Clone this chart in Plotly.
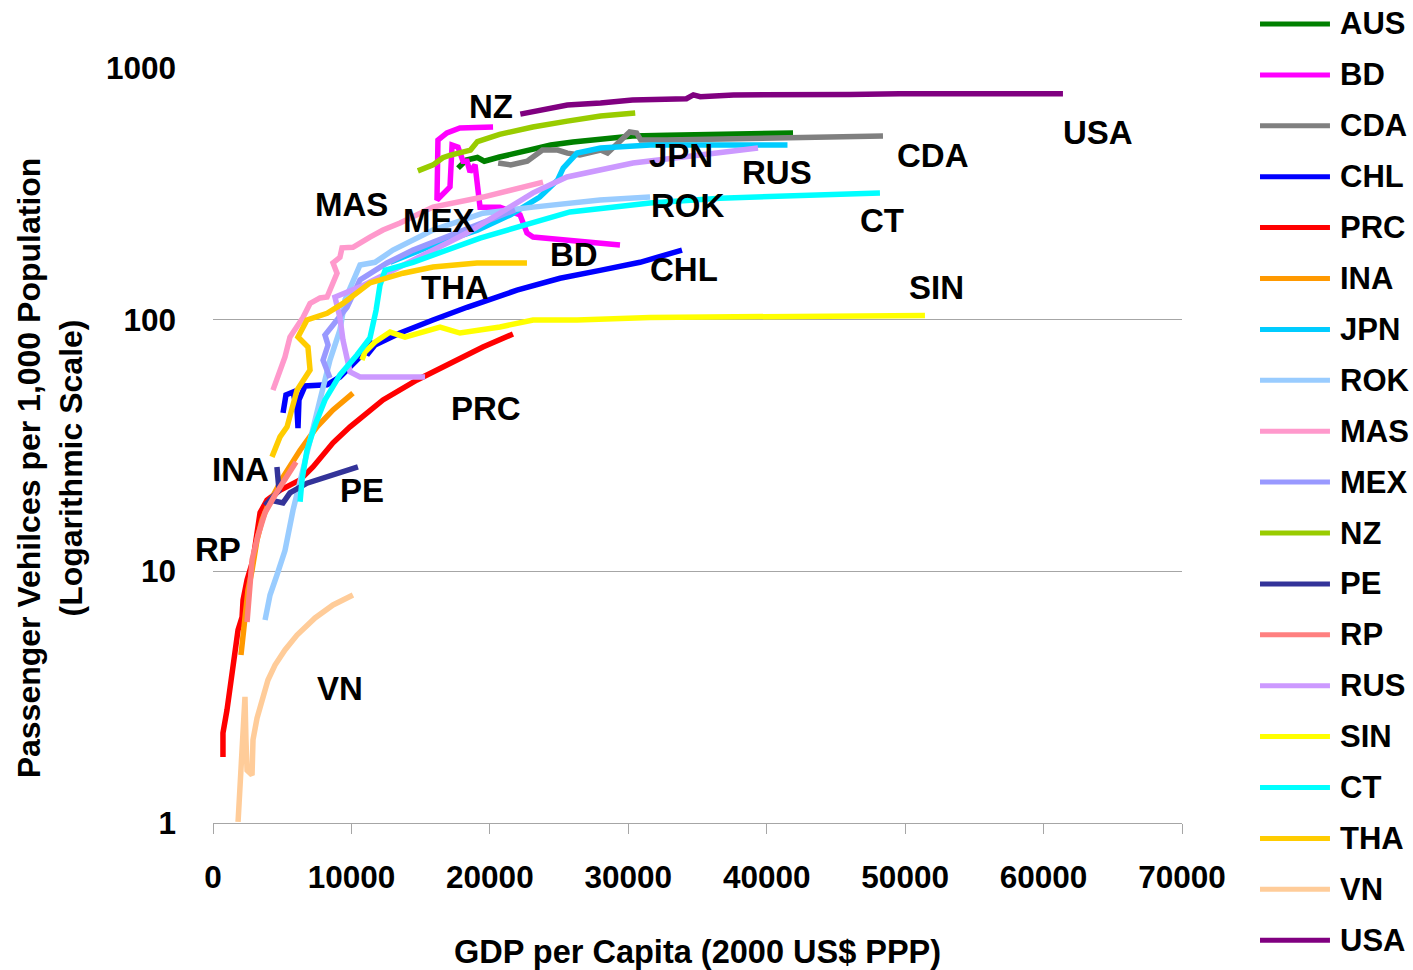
import numpy as np
import plotly.graph_objects as go

# GDP per capita (2000 US$ PPP) and passenger vehicles per 1,000 population
AUS_x = [17700, 18300, 19100, 19600, 20700, 22000, 23100, 24400, 26000, 28000, 30300, 32800, 40000, 41900]
AUS_y = [400, 431, 441, 426, 443, 459, 472, 494, 508, 522, 537, 540, 547, 552]

BD_x = [20230, 17840, 16900, 16250, 16180, 17120, 17270, 17700, 18060, 18350, 18570, 18930,
        19290, 20730, 22180, 22680, 23120, 25570, 29400]
BD_y = [583, 578, 552, 517, 299, 337, 494, 485, 426, 426, 386, 412, 280, 280, 261, 221, 213, 207, 198]

CDA_x = [20600, 21500, 22700, 23800, 24900, 25600, 26500, 28000, 28500, 29400, 30100, 30600,
         30900, 32800, 42400, 48400]
CDA_y = [419, 412, 426, 472, 472, 459, 451, 472, 459, 517, 557, 552, 517, 517, 527, 537]

CHL_x = [5060, 5270, 5780, 6070, 6140, 6210, 6650, 8240, 9170, 10260, 10980, 11340, 11120, 11700,
         13510, 15890, 18350, 21960, 25070, 27960, 30850, 33880]
CHL_y = [42.6, 50.2, 51.6, 43.8, 37.1, 48, 54.5, 55.1, 59.2, 67.3, 74.4, 83, 72.4, 79.3,
         88.5, 99.7, 112, 131, 146, 157, 169, 189]

PRC_x = [720, 720, 1010, 1230, 1440, 1590, 1810, 2100, 2170, 2460, 2890, 3400, 3900, 4840,
         6290, 7220, 8670, 9900, 12280, 14740, 17120, 19500, 21670]
PRC_y = [1.83, 2.28, 2.81, 3.38, 4.17, 4.87, 5.85, 6.58, 7.69, 9.24, 11.1, 17.1, 19.2, 21.0,
         23.1, 26.0, 32.4, 37.5, 48, 57.6, 67.3, 77.9, 87.7]

INA_x = [2020, 2170, 2310, 2530, 2820, 3180, 3540, 3970, 5060, 6290, 7510, 8670, 10110]
INA_y = [4.65, 5.48, 6.58, 8.43, 10.1, 13.3, 16.0, 18.3, 23.7, 30.3, 37.5, 43.8, 51.1]

JPN_x = [12800, 15900, 19100, 21500, 23600, 24900, 25300, 26300, 28000, 31600, 35200, 41500]
JPN_y = [169, 198, 227, 261, 307, 359, 400, 459, 481, 494, 494, 494]

ROK_x = [3760, 4120, 4620, 5200, 5780, 6290, 7010, 7730, 8450, 9170, 9540, 10620, 11700,
         13000, 15890, 19500, 23120, 27960, 31570]
ROK_y = [6.41, 8.05, 9.67, 12.1, 17.5, 23.1, 33.2, 48, 69.1, 91, 120, 165, 169,
         189, 227, 265, 280, 299, 307]

MAS_x = [4330, 4840, 5200, 5560, 6070, 6500, 7010, 7730, 8240, 8670, 8960, 8670, 9170, 9320,
         10110, 11340, 12280, 13510, 15890, 19500, 23840]
MAS_y = [52.5, 63.1, 71.1, 85.3, 93.5, 102, 116, 122, 123, 140, 153, 168, 177, 193,
         194, 213, 227, 242, 280, 307, 352]

MEX_x = [8450, 7950, 8310, 8090, 8670, 9680, 10620, 12570, 14450, 18570, 21820]
MEX_y = [58.7, 69.1, 79.3, 86.9, 95.2, 112, 144, 168, 189, 233, 273]

NZ_x = [14800, 15900, 16600, 17100, 18600, 19100, 20700, 23100, 25600, 28000, 30500]
NZ_y = [390, 412, 440, 450, 472, 510, 545, 583, 615, 645, 662]

PE_x = [4620, 4770, 3760, 4120, 5060, 5560, 6790, 8450, 10470]
PE_y = [26.0, 21.0, 18.3, 19.2, 18.7, 20.5, 22.4, 24.1, 26.0]

RP_x = [2460, 2600, 2820, 3250, 3760, 4480, 5200, 6000]
RP_y = [6.29, 8.43, 11.1, 13.9, 17.1, 20.1, 23.1, 27.2]

RUS_x = [15320, 10620, 9900, 9390, 9170, 8810, 10620, 13000, 14950, 18350, 20730, 23120,
         25570, 30340, 35180, 39370]
RUS_y = [59.2, 59.2, 62, 83, 102, 123, 135, 157, 177, 221, 265, 319, 369, 419, 451, 481]

SIN_x = [10760, 10980, 11700, 12790, 13870, 14950, 16400, 17840, 20730, 23120, 26300, 31570, 51430]
SIN_y = [69.1, 74.4, 81.5, 89.3, 85.3, 88.5, 93.5, 88.5, 93.5, 99.7, 99.7, 102, 104]

CT_x = [6290, 6430, 6790, 7370, 8090, 9170, 10400, 11340, 11780, 12060, 12430, 14450, 19290,
        25790, 31570, 36620, 48180]
CT_y = [18.9, 23.1, 30.3, 38.1, 48, 60.3, 72.4, 84.6, 109, 137, 157, 169, 211,
        268, 291, 304, 319]

THA_x = [4260, 4840, 5350, 6070, 7010, 6860, 6140, 6790, 8240, 9390, 11340, 13730, 15890, 19070, 22680]
THA_y = [28.5, 34.2, 37.5, 52.5, 63.1, 77.9, 85.3, 99.7, 106, 116, 140, 153, 162, 168, 168]

VN_x = [1810, 1950, 2100, 2310, 2380, 2460, 2820, 2890, 3180, 3540, 3970, 4480, 5200, 6070,
        7370, 8670, 10110]
VN_y = [1.01, 1.42, 2.14, 3.17, 2.14, 1.62, 1.55, 2.14, 2.61, 3.08, 3.70, 4.24, 4.87, 5.58,
        6.53, 7.35, 8.05]

USA_x = [22200, 23600, 25600, 28000, 30300, 34200, 34700, 35200, 36600, 37600, 46000, 49600, 61400]
USA_y = [656, 681, 713, 726, 746, 755, 782, 769, 775, 782, 784, 790, 790]

series = [
    ("AUS", AUS_x, AUS_y, "#008000"),
    ("BD", BD_x, BD_y, "#FF00FF"),
    ("CDA", CDA_x, CDA_y, "#808080"),
    ("CHL", CHL_x, CHL_y, "#0000FF"),
    ("PRC", PRC_x, PRC_y, "#FF0000"),
    ("INA", INA_x, INA_y, "#FF9900"),
    ("JPN", JPN_x, JPN_y, "#00CCFF"),
    ("ROK", ROK_x, ROK_y, "#99CCFF"),
    ("MAS", MAS_x, MAS_y, "#FF99CC"),
    ("MEX", MEX_x, MEX_y, "#9999FF"),
    ("NZ", NZ_x, NZ_y, "#99CC00"),
    ("PE", PE_x, PE_y, "#333399"),
    ("RP", RP_x, RP_y, "#FF8080"),
    ("RUS", RUS_x, RUS_y, "#CC99FF"),
    ("SIN", SIN_x, SIN_y, "#FFFF00"),
    ("CT", CT_x, CT_y, "#00FFFF"),
    ("THA", THA_x, THA_y, "#FFCC00"),
    ("VN", VN_x, VN_y, "#FFCC99"),
    ("USA", USA_x, USA_y, "#800080"),
]

# Country labels placed next to their curves (GDP, vehicles)
label_names = ["NZ", "USA", "CDA", "JPN", "RUS", "ROK", "CT", "MAS", "MEX", "BD",
               "THA", "CHL", "SIN", "PRC", "INA", "PE", "RP", "VN"]
label_x = [20080, 63930, 52010, 33810, 40740, 34310, 48330, 10040, 16330, 26080,
           17480, 34020, 52300, 19720, 2020, 10760, 360, 9170]
label_y = [700, 552, 451, 451, 383, 285, 247, 288, 247, 182,
           134, 158, 134, 44.2, 25.5, 20.9, 12.2, 3.41]

x_ticks = [0, 10000, 20000, 30000, 40000, 50000, 60000, 70000]
y_ticks = [1, 10, 100, 1000]

FONT = "Liberation Sans, Arial, sans-serif"

fig = go.Figure()
for name, xs, ys, color in series:
    fig.add_trace(go.Scatter(x=xs, y=ys, mode="lines", name=name,
                             line=dict(color=color, width=5.5), showlegend=False))

annotations = []
for name, lx, ly in zip(label_names, label_x, label_y):
    annotations.append(dict(x=lx, y=np.log10(ly), xref="x", yref="y", text=f"<b>{name}</b>",
                            showarrow=False, font=dict(family=FONT, size=33, color="black")))

# Custom legend column on the right
shapes = []
for i, (name, xs, ys, color) in enumerate(series):
    yp = 1.0 + (68 - 24 - 50.9 * i) / 755.0
    shapes.append(dict(type="line", xref="paper", yref="paper", x0=1.0805, x1=1.1527,
                       y0=yp, y1=yp, line=dict(color=color, width=5)))
    annotations.append(dict(x=1.161, y=yp, xref="paper", yref="paper", text=f"<b>{name}</b>",
                            showarrow=False, xanchor="left", yanchor="middle",
                            font=dict(family=FONT, size=31, color="black")))

# Axis titles
annotations.append(dict(x=-0.168, y=0.47, xref="paper", yref="paper",
                        text="<b>Passenger Vehilces per 1,000 Population<br>(Logarithmic Scale)</b>",
                        textangle=-90, showarrow=False, xanchor="center", yanchor="middle",
                        font=dict(family=FONT, size=32, color="black")))
annotations.append(dict(x=0.5005, y=-0.171, xref="paper", yref="paper",
                        text="<b>GDP per Capita (2000 US$ PPP)</b>",
                        showarrow=False, xanchor="center", yanchor="middle",
                        font=dict(family=FONT, size=32.5, color="black")))

fig.update_layout(
    width=1413, height=970,
    margin=dict(l=213, r=231, t=68, b=147),
    paper_bgcolor="white", plot_bgcolor="white",
    showlegend=False,
    annotations=annotations,
    shapes=shapes,
    xaxis=dict(range=[0, 70000], tickvals=x_ticks, ticktext=[str(v) for v in x_ticks],
               showgrid=False, zeroline=False, showline=True, linecolor="#A6A6A6", linewidth=1,
               ticks="outside", ticklen=10, tickcolor="#A6A6A6",
               ticklabelstandoff=16,
               tickfont=dict(family=FONT, size=31.5, color="black", weight="bold")),
    yaxis=dict(type="log", range=[0, 3], tickvals=y_ticks, ticktext=[str(v) for v in y_ticks],
               showgrid=True, gridcolor="#A6A6A6", gridwidth=1, zeroline=False, showline=False,
               ticks="", ticklabelstandoff=36,
               tickfont=dict(family=FONT, size=31.5, color="black", weight="bold")),
)

fig.write_html("out.html")
